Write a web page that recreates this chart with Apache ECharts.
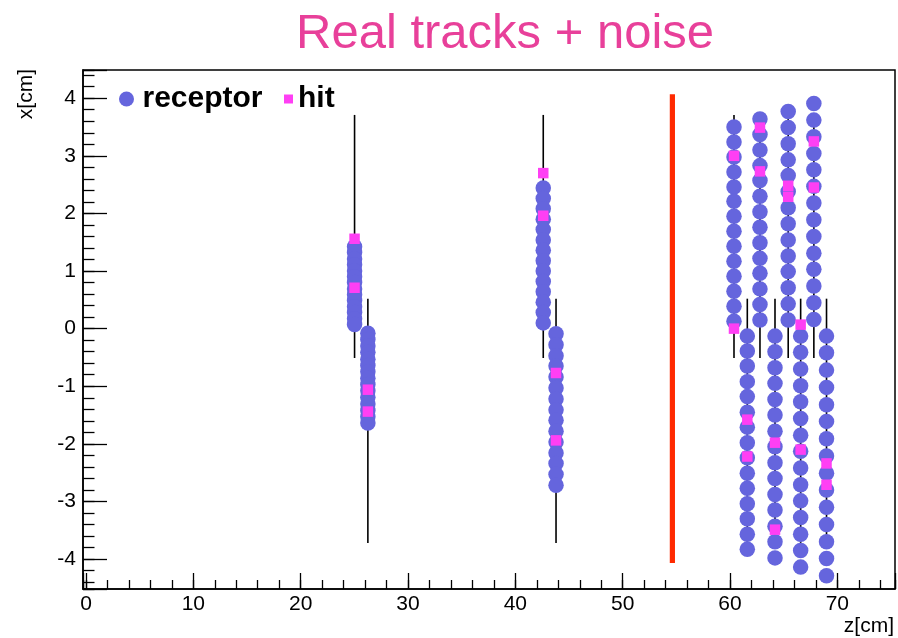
<!DOCTYPE html>
<html><head><meta charset="utf-8">
<script src="https://cdn.jsdelivr.net/npm/echarts@6/dist/echarts.min.js"></script>
<style>html,body{margin:0;padding:0;background:#fff}#c{width:898px;height:638px}</style>
</head><body><div id="c"></div>
<script>
// ---------- data ----------
const titleText = 'Real tracks + noise';
const zTickValues = [0, 10, 20, 30, 40, 50, 60, 70];
const xTickValues = [-4, -3, -2, -1, 0, 1, 2, 3, 4];

// receptor columns (z position of each layer)
const receptorZ = [25.02, 26.26, 42.60, 43.79, 60.37, 61.61, 62.79, 64.19, 65.42, 66.58, 67.81, 68.99];
const col1 = [1.42, 1.32, 1.21, 1.11, 1.00, 0.90, 0.80, 0.69, 0.59, 0.49, 0.38, 0.28, 0.17, 0.07];
const col2 = [-0.08, -0.19, -0.30, -0.41, -0.53, -0.64, -0.75, -0.86, -0.97, -1.08, -1.19, -1.31, -1.42, -1.53, -1.64];
const col3 = [2.44, 2.26, 2.08, 1.90, 1.72, 1.54, 1.36, 1.18, 1.00, 0.82, 0.64, 0.46, 0.28, 0.10];
const col4 = [-0.09, -0.28, -0.47, -0.65, -0.84, -1.03, -1.22, -1.41, -1.59, -1.78, -1.97, -2.16, -2.34, -2.53, -2.72];
const colA = [3.50, 3.24, 2.98, 2.72, 2.46, 2.21, 1.95, 1.69, 1.43, 1.17, 0.91, 0.65, 0.39, 0.13];
const colE = [-0.13, -0.39, -0.65, -0.92, -1.18, -1.45, -1.71, -1.98, -2.24, -2.51, -2.77, -3.04, -3.30, -3.57, -3.83];
const colB = [3.64, 3.37, 3.10, 2.83, 2.57, 2.30, 2.03, 1.76, 1.49, 1.22, 0.96, 0.69, 0.42, 0.15];
const colF = [-0.13, -0.40, -0.68, -0.95, -1.23, -1.50, -1.78, -2.05, -2.33, -2.60, -2.88, -3.15, -3.43, -3.70, -3.98];
const colC = [3.77, 3.49, 3.21, 2.93, 2.66, 2.38, 2.10, 1.82, 1.54, 1.26, 0.99, 0.71, 0.43, 0.15];
const colG = [-0.13, -0.41, -0.70, -0.99, -1.27, -1.56, -1.85, -2.13, -2.42, -2.71, -2.99, -3.28, -3.57, -3.85, -4.14];
const colD = [3.91, 3.62, 3.33, 3.04, 2.76, 2.47, 2.18, 1.89, 1.60, 1.31, 1.03, 0.74, 0.45, 0.16];
const colH = [-0.13, -0.42, -0.72, -1.02, -1.32, -1.61, -1.91, -2.21, -2.51, -2.80, -3.10, -3.40, -3.70, -3.99, -4.29];
const receptorCols = [col1, col2, col3, col4, colA, colE, colB, colF, colC, colG, colD, colH];

// layer segments (black vertical lines)
const layerTop = [3.71, 0.52, 3.71, 0.52, 3.71, 0.52, 3.71, 0.52, 3.71, 0.52, 3.71, 0.52];
const layerBottom = [-0.51, -3.72, -0.51, -3.72, -0.51, -3.72, -0.51, -3.72, -0.51, -3.72, -0.51, -3.72];

// hits
const hitZ = [25.02, 25.02, 26.26, 26.26, 42.60, 42.60, 43.79, 43.79, 60.37, 60.37, 62.79, 62.79,
              65.42, 65.42, 67.81, 67.81, 61.61, 61.61, 64.19, 64.19, 66.58, 66.58, 68.99, 68.99];
const hitX = [1.56, 0.71, -1.06, -1.44, 2.70, 1.96, -0.77, -1.94, 3.00, 0.00, 3.49, 2.73,
              2.48, 2.29, 3.25, 2.45, -1.58, -2.22, -1.98, -3.49, 0.07, -2.10, -2.34, -2.71];

// red separator line
const cutZ = [54.63];
const cutTop = [4.07];
const cutBottom = [-4.07];

// ---------- build ----------
const FONT = 'Liberation Sans, Arial, Helvetica, sans-serif';
const receptorData = [];
receptorZ.forEach((z, i) => receptorCols[i].forEach(x => receptorData.push([z, x])));
const hitData = hitZ.map((z, i) => [z, hitX[i]]);
const layerData = receptorZ.map((z, i) => [z, layerTop[i], layerBottom[i]]);
const cutData = cutZ.map((z, i) => [z, cutTop[i], cutBottom[i]]);

function segRender(color, width) {
  return function (params, api) {
    const p1 = api.coord([api.value(0), api.value(1)]);
    const p2 = api.coord([api.value(0), api.value(2)]);
    return { type: 'line', shape: { x1: p1[0], y1: p1[1], x2: p2[0], y2: p2[1] },
             style: { stroke: color, lineWidth: width } };
  };
}
const isTick = (v, list) => list.some(t => Math.abs(v - t) < 1e-6);

const xMin = -0.28, xMax = 75.37, yMin = -4.52, yMax = 4.49;
const tickLine = { color: '#000', width: 1.3 };
const legendText = { fontFamily: FONT, fontWeight: 'bold', fontSize: 30, color: '#000' };

const option = {
  animation: false,
  backgroundColor: '#fff',
  title: { text: titleText, left: 291, top: 5, padding: 5,
    textStyle: { fontFamily: FONT, fontWeight: 'normal', fontSize: 49, color: '#e8409a' } },
  legend: [
    { data: [{ name: 'receptor', icon: 'circle' }], left: 119, top: 84, padding: 0,
      itemWidth: 22, itemHeight: 15, selectedMode: false, textStyle: legendText },
    { data: [{ name: 'hit', icon: 'rect' }], left: 284, top: 84, padding: 0,
      itemWidth: 9, itemHeight: 9, selectedMode: false, textStyle: legendText }
  ],
  grid: { left: 83, right: 2, top: 70, bottom: 49, show: true, borderColor: '#000', borderWidth: 1.5,
          backgroundColor: 'transparent' },
  xAxis: [
    { type: 'value', position: 'bottom', min: xMin, max: xMax, splitNumber: 8, minInterval: 10, maxInterval: 10,
      axisLine: { show: true, onZero: false, lineStyle: { color: '#000', width: 1.5 } },
      axisTick: { show: true, inside: true, length: 16, lineStyle: tickLine },
      axisLabel: { show: true, margin: 5, color: '#000', fontFamily: FONT, fontSize: 21,
                   showMinLabel: true, showMaxLabel: true, hideOverlap: false,
                   formatter: v => isTick(v, zTickValues) ? String(Math.round(v)) : '' },
      splitLine: { show: false } },
    { type: 'value', position: 'bottom', min: xMin, max: xMax, splitNumber: 38, minInterval: 2, maxInterval: 2,
      axisLine: { show: false, onZero: false },
      axisTick: { show: true, inside: true, length: 9, lineStyle: tickLine },
      axisLabel: { show: false }, splitLine: { show: false } }
  ],
  yAxis: [
    { type: 'value', position: 'left', min: yMin, max: yMax, splitNumber: 9, minInterval: 1, maxInterval: 1,
      axisLine: { show: true, onZero: false, lineStyle: { color: '#000', width: 1.5 } },
      axisTick: { show: true, inside: true, length: 24, lineStyle: tickLine },
      axisLabel: { show: true, margin: 7, color: '#000', fontFamily: FONT, fontSize: 21, hideOverlap: false,
                   formatter: v => isTick(v, xTickValues) ? String(Math.round(v)) : '' },
      splitLine: { show: false } },
    { type: 'value', position: 'left', min: yMin, max: yMax, splitNumber: 45, minInterval: 0.2, maxInterval: 0.2,
      axisLine: { show: false, onZero: false },
      axisTick: { show: true, inside: true, length: 11.5, lineStyle: tickLine },
      axisLabel: { show: false }, splitLine: { show: false } }
  ],
  graphic: [
    { type: 'text', x: 894, y: 626, z: 100,
      style: { text: 'z[cm]', fontFamily: FONT, fontSize: 21, fill: '#000',
               align: 'right', textAlign: 'right', verticalAlign: 'middle', textVerticalAlign: 'middle' } },
    { type: 'text', x: 26, y: 69, rotation: Math.PI / 2, z: 100,
      style: { text: 'x[cm]', fontFamily: FONT, fontSize: 21, fill: '#000',
               align: 'right', textAlign: 'right', verticalAlign: 'middle', textVerticalAlign: 'middle' } }
  ],
  series: [
    { type: 'custom', name: 'layers', xAxisIndex: 0, yAxisIndex: 0, data: layerData, z: 2, silent: true,
      encode: { x: 0, y: [1, 2] }, renderItem: segRender('#000', 1.6) },
    { type: 'custom', name: 'cut', xAxisIndex: 0, yAxisIndex: 0, data: cutData, z: 2, silent: true,
      encode: { x: 0, y: [1, 2] }, renderItem: segRender('#ff2a00', 5.2) },
    { type: 'scatter', name: 'receptor', xAxisIndex: 0, yAxisIndex: 0, data: receptorData, z: 3,
      symbol: 'circle', symbolSize: 15.5, itemStyle: { color: '#6565dd', opacity: 1 }, silent: true },
    { type: 'scatter', name: 'hit', xAxisIndex: 0, yAxisIndex: 0, data: hitData, z: 4,
      symbol: 'rect', symbolSize: 10.5, itemStyle: { color: '#ff3ff4', opacity: 1 }, silent: true }
  ]
};
const chart = echarts.init(document.getElementById('c'), null, { renderer: 'canvas' });
chart.setOption(option);
</script></body></html>
